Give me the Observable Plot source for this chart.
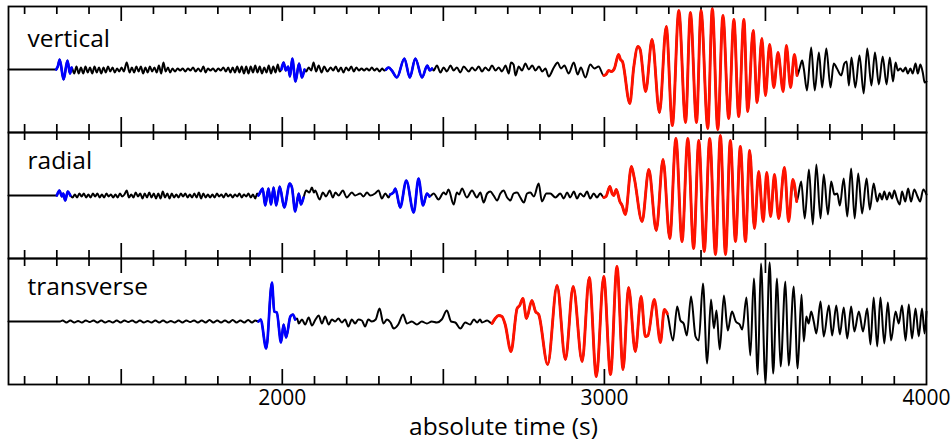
<!DOCTYPE html>
<html>
<head>
<meta charset="utf-8">
<script src="https://cdn.jsdelivr.net/npm/d3@7"></script>
<script src="https://cdn.jsdelivr.net/npm/@observablehq/plot@0.6"></script>
<style>
  html, body { margin: 0; padding: 0; background: #fff; }
  #chart svg { display: block; }
</style>
</head>
<body>
<div id="chart"></div>
<script>
// ---- data (time in s, amplitude in arbitrary units) ----
const components = ["vertical", "radial", "transverse"];
const tickLabels = [2000, 3000, 4000];
const xDomain = [1150, 4000];

const verticalTrace = [
[1150,0],[1298,0],[1303,3],[1309,10],[1321,-10],[1333,9],[1341,-4],[1346,2],
[1354,-4],[1361,3],[1368,-4],[1375,2],[1382,-4],[1389,3],[1396,-3],[1403,2],[1410,-4],[1417,3],[1424,-3],[1431,2],[1438,-4],[1445,2],[1452,-3],[1459,3],[1466,-2],[1473,2],[1480,-3],[1487,1],[1494,-2],[1501,2],[1508,-2],[1517,7],[1526,-3],[1533,2],[1540,-3],[1547,3],[1554,-2],[1561,3],[1568,-4],[1575,2],[1582,-3],[1589,3],[1596,-2],[1603,2],[1610,-3],[1617,4],[1624,-4],[1631,7],[1638,-2],[1645,2],[1652,-3],[1659,1],[1667,-2],[1675,1],[1683,-1],[1691,1],[1699,-2],[1707,1],[1715,-1],[1723,2],[1731,-2],[1739,1],[1747,-2],[1755,3],[1762,-3],[1769,1],[1777,-1],[1785,1],[1793,-2],[1801,1],[1809,-1],[1817,2],[1825,-2],[1832,2],[1839,-3],[1846,2],[1853,-3],[1860,3],[1867,-3],[1874,3],[1881,-4],[1888,3],[1895,-4],[1902,3],[1909,-3],[1916,4],[1923,-3],[1930,3],[1937,-4],[1944,2],[1951,-3],[1958,4],[1965,-4],[1972,3],[1979,-3],[1986,5],[1992,-2],
[1997,0],[2004,7],[2011,-1],[2018,3],[2024,-7],[2031,11],[2041,-12],[2052,6],[2061,-8],[2069,0],
[2074,-2],[2082,2],[2090,-1],[2097,7],[2105,-2],[2113,4],[2122,-3],[2130,3],[2140,-2],[2150,2],[2158,-1],[2166,3],[2174,-2],[2182,2],[2190,-3],[2198,2],[2206,-1],[2214,3],[2222,-2],[2230,2],[2238,-1],[2246,1],[2254,-1],[2262,1],[2270,-1],[2278,2],[2286,-1],[2294,1],[2302,-2],[2310,1],[2316,-1],
[2322,0],[2330,2],[2340,-1],[2356,-8],[2379,11],[2396,-8],[2413,11],[2434,-8],[2450,4],[2458,-1],[2465,1],
[2470,-1],[2480,4],[2491,-3],[2501,2],[2511,-2],[2522,4],[2532,-1],[2542,2],[2553,-3],[2563,3],[2579,-2],[2589,2],[2599,-1],[2610,3],[2620,-2],[2630,2],[2641,-1],[2651,4],[2662,-1],[2672,2],[2682,-2],[2693,4],[2703,-4],[2710,7],[2718,5],[2724,-6],[2734,3],[2744,-1],[2755,6],[2765,0],[2776,4],[2786,-1],[2797,3],[2807,-2],[2817,1],[2827,-7],[2843,2],[2855,7],[2865,1],[2876,4],[2889,-4],[2905,7],[2917,-5],[2927,2],[2941,-8],[2956,5],[2969,1],[2982,3],
[2998,-6],[3005,-5],[3013,-1],[3022,-2],[3031,1],[3044,15],[3050,10],[3056,8],[3079,-34],[3091,2],[3104,23],[3111,20],[3128,-22],[3148,30],[3171,-43],[3192,43],[3211,-56],[3231,59],[3252,-53],[3267,57],[3286,-53],[3300,59],[3321,-59],[3335,61],[3352,-60],[3368,54],[3386,-49],[3402,50],[3417,-47],[3433,50],[3445,-42],[3462,39],[3474,-33],[3489,31],[3500,-26],[3513,25],[3526,-18],[3539,17],[3555,-22],[3565,24],[3578,-18],[3590,15],[3598,-6],
[3606,1],[3614,9],[3619,1],[3629,-21],[3642,22],[3653,-21],[3666,17],[3676,-18],[3689,21],[3702,-18],[3712,6],[3722,1],[3735,-6],[3745,6],[3752,8],[3759,-16],[3767,12],[3779,-18],[3792,14],[3805,-24],[3816,21],[3829,-16],[3840,17],[3852,-15],[3864,13],[3876,-15],[3886,12],[3896,-12],[3904,7],[3911,-1],[3919,1],[3927,-2],[3935,2],[3942,-4],[3950,1],[3957,-4],[3966,6],[3973,-4],[3981,5],[3989,-4],[3994,-13],[4000,-12]
];

const radialTrace = [
[1150,0],[1300,0],[1308,5],[1316,-1],[1320,2],[1326,-5],[1334,4],[1342,0],
[1349,-2],[1356,1],[1363,-2],[1370,2],[1377,-1],[1384,2],[1391,-2],[1398,1],[1405,-2],[1412,2],[1419,-1],[1426,2],[1433,-2],[1440,1],[1447,-2],[1454,2],[1461,-1],[1468,1],[1475,-2],[1482,1],[1489,-2],[1496,2],[1503,-1],[1510,1],[1517,5],[1524,-2],[1531,1],[1538,-2],[1545,3],[1552,-1],[1559,2],[1566,-3],[1573,2],[1580,-2],[1587,3],[1594,-2],[1601,2],[1608,-3],[1615,2],[1622,-3],[1629,4],[1636,-2],[1643,2],[1650,-3],[1657,2],[1664,-2],[1671,1],[1678,-2],[1685,2],[1692,-1],[1699,2],[1706,-2],[1713,1],[1720,-2],[1727,2],[1734,-2],[1741,3],[1748,-3],[1755,2],[1762,-2],[1769,1],[1776,-2],[1783,1],[1790,-2],[1797,2],[1804,-1],[1811,1],[1818,-2],[1825,2],[1832,-1],[1839,1],[1846,-2],[1853,1],[1860,-1],[1867,2],[1874,-2],[1881,1],[1888,-1],[1895,2],[1902,-2],[1909,1],[1916,-3],[1922,2],
[1926,0],[1931,3],[1939,7],[1947,-10],[1957,7],[1965,-9],[1973,8],[1981,-10],[1992,9],[2006,-12],[2023,12],[2030,8],[2040,-16],[2051,2],[2058,-9],[2066,-2],
[2074,5],[2084,3],[2092,8],[2098,3],[2102,5],[2116,-4],[2126,3],[2136,-1],[2147,5],[2157,-2],[2165,3],[2175,0],[2188,5],[2200,-2],[2216,3],[2226,0],[2242,2],[2252,-1],[2263,3],[2273,0],[2288,2],[2299,5],[2309,-3],[2320,2],[2330,-2],
[2335,1],[2345,3],[2351,7],[2366,-12],[2385,15],[2408,-17],[2423,17],[2437,-10],[2449,2],[2457,-1],
[2470,2],[2485,-4],[2501,3],[2508,1],[2516,6],[2532,-9],[2542,3],[2549,1],[2558,7],[2573,-2],[2589,5],[2604,-2],[2615,3],[2625,-7],[2636,2],[2646,4],[2656,0],[2667,-5],[2677,2],[2687,5],[2698,-2],[2708,-5],[2718,2],[2729,3],[2739,-2],[2750,-7],[2760,2],[2770,3],[2781,-1],[2796,12],[2806,-6],[2820,2],[2832,2],[2848,-2],[2863,2],[2874,-3],[2884,3],[2894,-2],[2905,4],[2915,-3],[2925,2],[2936,-1],[2946,4],[2956,-3],[2967,2],[2977,-2],[2987,2],
[2998,-2],[3005,-1],[3017,9],[3024,2],[3029,0],[3037,6],[3048,-6],[3055,-10],[3065,-19],[3084,29],[3093,17],[3117,-26],[3138,26],[3161,-35],[3182,36],[3203,-43],[3222,57],[3241,-46],[3259,57],[3277,-53],[3293,55],[3310,-56],[3327,57],[3345,-59],[3360,60],[3376,-59],[3391,55],[3407,-46],[3422,49],[3438,-46],[3451,45],[3466,-33],[3479,24],[3493,-26],[3504,23],[3516,-21],[3528,21],[3541,-23],[3559,28],[3572,-26],[3585,16],[3597,-6],
[3611,14],[3622,-23],[3635,26],[3647,-29],[3658,31],[3671,-23],[3681,21],[3694,-19],[3704,14],[3714,1],[3723,2],[3731,-10],[3743,17],[3754,-21],[3766,27],[3777,-23],[3788,22],[3800,-18],[3814,17],[3824,-14],[3836,12],[3847,-6],[3855,2],[3862,-4],[3869,4],[3877,-4],[3885,3],[3893,-3],[3900,5],[3908,-3],[3917,-9],[3924,4],[3934,-6],[3943,7],[3952,-6],[3962,6],[3972,-1],[3980,-6],[3990,6],[4000,1]
];

const transverseTrace = [
[1150,0],[1310,0],
[1318,1],[1330,-1],[1342,1],[1354,-1],[1366,0.5],[1378,-1],[1390,1],[1402,-0.5],[1414,1],[1426,-1],[1438,1],[1450,-1],[1462,0.5],[1474,-1],[1486,1],[1498,-1],[1510,1],[1522,-0.5],[1534,1],[1546,-1],[1558,1],[1570,-1],[1582,0.5],[1594,-1],[1606,1],[1618,-1],[1630,1],[1642,-1],[1654,0.5],[1666,-1],[1678,1],[1690,-1],[1702,1],[1714,-0.5],[1726,1],[1738,-1],[1750,1],[1762,-1],[1774,1.5],[1786,-1],[1798,1],[1810,-1],[1822,1],[1834,-1],[1846,1.5],[1858,-1],[1870,1],[1882,-1],[1894,1.5],[1906,-1],[1916,1],
[1926,0],[1933,2],[1950,-27],[1968,39],[1975,10],[1983,9],[1996,-21],[2004,-3],[2012,-16],[2025,5],[2033,7],[2040,2],
[2046,3],[2051,-2],[2061,2],[2071,-3],[2082,4],[2092,-4],[2103,2],[2113,6],[2123,-2],[2133,5],[2144,-3],[2154,2],[2164,0],[2174,3],[2185,-1],[2195,2],[2205,-5],[2216,2],[2226,-2],[2236,2],[2247,1],[2257,-5],[2267,2],[2278,0],[2290,2],[2302,13],[2314,-2],[2325,2],[2336,-1],[2346,-7],[2360,-3],[2375,7],[2387,-2],[2402,0],[2418,-3],[2433,0],[2449,-2],[2464,0],[2480,-1],[2495,2],[2511,11],[2524,0],[2537,-1],[2553,-7],[2568,-1],[2583,-3],[2595,2],[2605,-1],[2614,2],[2620,-1],[2636,1],
[2651,-2],[2661,3],[2672,6],[2682,5],[2692,-3],[2710,-30],[2729,13],[2737,16],[2747,23],[2758,3],[2775,21],[2786,10],[2796,7],[2824,-43],[2853,36],[2879,-38],[2903,35],[2931,-40],[2953,44],[2975,-55],[2998,45],[3019,-53],[3039,55],[3058,-48],[3075,34],[3096,-30],[3114,25],[3127,-15],[3135,-14],[3155,22],[3174,-21],[3186,12],[3195,8],
[3213,-19],[3226,15],[3236,1],[3246,-2],[3256,-14],[3269,25],[3283,-15],[3293,-19],[3306,38],[3319,-42],[3331,22],[3340,-7],[3348,11],[3358,-28],[3371,26],[3383,-9],[3396,10],[3408,0],[3420,-3],[3428,-8],[3441,24],[3453,-34],[3464,43],[3476,-53],[3486,58],[3500,-60],[3513,59],[3524,-52],[3536,43],[3547,-45],[3562,40],[3572,-44],[3588,35],[3600,-47],[3612,27],[3619,-20],[3627,5],[3634,-2],[3642,10],[3650,0],[3658,-12],[3671,20],[3681,-15],[3697,16],[3707,-14],[3720,16],[3731,-13],[3743,14],[3754,-17],[3766,15],[3776,-10],[3790,10],[3803,-10],[3816,13],[3826,-23],[3836,24],[3847,-25],[3857,24],[3869,-22],[3880,19],[3890,-19],[3904,10],[3914,-2],[3924,16],[3935,-19],[3945,17],[3955,-17],[3966,13],[3976,-15],[3986,13],[3994,-12],[4000,10]
];

// phase windows highlighted in colour: [component, start (s), end (s)]
const bodyWaveWindows = [
  ["vertical", 1298, 1346], ["vertical", 1997, 2069], ["vertical", 2322, 2465],
  ["radial", 1300, 1342], ["radial", 1926, 2066], ["radial", 2335, 2457],
  ["transverse", 1926, 2040]
];
const surfaceWaveWindows = [
  ["vertical", 2998, 3598], ["radial", 2998, 3597], ["transverse", 2651, 3195]
];

// ---- build tables ----
const traces = {vertical: verticalTrace, radial: radialTrace, transverse: transverseTrace};
const rows = components.flatMap(c => traces[c].map(([t, a]) => ({component: c, t, a})));
function windowRows(windows) {
  return windows.flatMap(([c, s, e], i) =>
    traces[c].filter(([t]) => t >= s && t <= e).map(([t, a]) => ({component: c, t, a, seg: i})));
}
const blueRows = windowRows(bodyWaveWindows);
const redRows = windowRows(surfaceWaveWindows);

const allTicks = d3.range(1200, 4000, 100);
const majorTicks = allTicks.filter(t => t % 500 === 0);
const minorTicks = allTicks.filter(t => t % 500 !== 0);

const H = 63, minorLen = 8, majorLen = 15;
const font = "'Open Sans', 'Noto Sans', sans-serif";

const chart = Plot.plot({
  width: 951,
  height: 441,
  marginLeft: 8,
  marginRight: 25,
  marginTop: 5,
  marginBottom: 57,
  style: {fontFamily: font, background: "#fff", color: "#000"},
  x: {domain: xDomain},
  y: {domain: [-H, H], axis: null},
  fy: {domain: components, padding: 0, axis: null},
  marks: [
    Plot.ruleX(minorTicks, {x: d => d, y1: H, y2: H - minorLen, stroke: "#000", strokeWidth: 1.7}),
    Plot.ruleX(majorTicks, {x: d => d, y1: H, y2: H - majorLen, stroke: "#000", strokeWidth: 1.7}),
    Plot.ruleX(minorTicks, {x: d => d, y1: -H, y2: -H + minorLen, stroke: "#000", strokeWidth: 1.7}),
    Plot.ruleX(majorTicks, {x: d => d, y1: -H, y2: -H + majorLen, stroke: "#000", strokeWidth: 1.7}),
    Plot.line(rows, {x: "t", y: "a", fy: "component", z: "component", curve: "monotone-x", stroke: "#000", strokeWidth: 2}),
    Plot.line(blueRows, {x: "t", y: "a", fy: "component", z: "seg", curve: "monotone-x", stroke: "#0000ff", strokeWidth: 2.7}),
    Plot.line(redRows, {x: "t", y: "a", fy: "component", z: "seg", curve: "monotone-x", stroke: "#ff1200", strokeWidth: 2.9}),
    Plot.frame({stroke: "#000", strokeWidth: 1.8}),
    Plot.text(["vertical"], {fy: d => d, text: d => d, frameAnchor: "top-left", textAnchor: "start", lineAnchor: "bottom", dx: 19, dy: 40, fontSize: 24.5, fill: "#000"}),
    Plot.text(["radial", "transverse"], {fy: d => d, text: d => d, frameAnchor: "top-left", textAnchor: "start", lineAnchor: "bottom", dx: 19, dy: 36, fontSize: 24.5, fill: "#000"}),
    Plot.axisX(tickLabels, {anchor: "bottom", tickSize: 0, tickPadding: 6, fontSize: 21, tickFormat: d => String(d), label: null, fill: "#000"}),
    Plot.text(["absolute time (s)"], {fy: () => "transverse", text: d => d, frameAnchor: "bottom", textAnchor: "middle", lineAnchor: "bottom", dx: 36, dy: 50, fontSize: 24.5, fill: "#000"})
  ]
});
document.getElementById("chart").appendChild(chart);
</script>
</body>
</html>
